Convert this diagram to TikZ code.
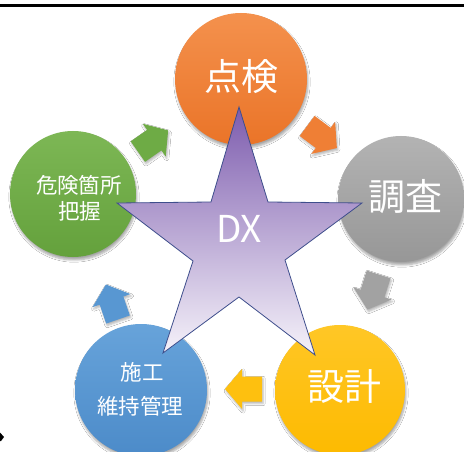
\documentclass[tikz,border=0pt]{standalone}
\usepackage{fontspec}
\setmainfont{Noto Sans CJK JP}
\usetikzlibrary{shadows.blur}
\definecolor{cOrangeT}{HTML}{F4914D}
\definecolor{cOrangeB}{HTML}{EA7428}
\definecolor{cGrayT}{HTML}{B3B3B3}
\definecolor{cGrayB}{HTML}{979797}
\definecolor{cYellowT}{HTML}{FFC726}
\definecolor{cYellowB}{HTML}{FDBA00}
\definecolor{cBlueT}{HTML}{67A3DA}
\definecolor{cBlueB}{HTML}{4C8BC9}
\definecolor{cGreenT}{HTML}{7DB755}
\definecolor{cGreenB}{HTML}{64A13C}
\definecolor{cOrange}{HTML}{EF7F35}
\definecolor{cGray}{HTML}{A2A2A2}
\definecolor{cYellow}{HTML}{FEC00F}
\definecolor{cBlue}{HTML}{5897D2}
\definecolor{cGreen}{HTML}{6EAB45}
\definecolor{starTop}{HTML}{7D5CAE}
\definecolor{starBot}{HTML}{F6F3FA}
\definecolor{starLine}{HTML}{3E4E8C}
\tikzset{
  disc/.style={circle, inner sep=0pt, minimum size=#1,
    blur shadow={shadow xshift=1pt, shadow yshift=-3pt, shadow blur steps=6, shadow opacity=35}},
  bigtxt/.style={text=white, font=\fontsize{37}{40}\selectfont, inner sep=0pt},
  smalltxt/.style={text=white, font=\fontsize{21.5}{26}\selectfont, inner sep=0pt},
  blockarrow/.style={fill=#1,
    blur shadow={shadow xshift=1pt, shadow yshift=-2pt, shadow blur steps=4, shadow opacity=30}}
}
\newcommand{\blockarr}[4]{%
  \fill[blockarrow=#4, shift={(#1,#2)}, rotate=#3]
    (-18.5,-12.5) -- (1.5,-12.5) -- (1.5,-20) -- (18.5,0) -- (1.5,20) -- (1.5,12.5) -- (-18.5,12.5) -- cycle;}
\begin{document}
\begin{tikzpicture}[x=1pt, y=-1pt]
\useasboundingbox (0,0) rectangle (464,452);
\fill[white] (0,0) rectangle (464,452);
\draw[line width=3pt] (0,5.5) -- (464,5.5);
\fill[black] (0,432.5) -- (4,437) -- (1,441) -- (0,441) -- cycle;

% circles
\node[disc=132, top color=cOrangeT, bottom color=cOrangeB] (ten) at (241,79) {};
\node[disc=126, top color=cGrayT, bottom color=cGrayB] (cho) at (401,199) {};
\node[disc=130, top color=cYellowT, bottom color=cYellowB] (sek) at (340,390) {};
\node[disc=132, top color=cBlueT, bottom color=cBlueB] (sek2) at (141,390) {};
\node[disc=126, top color=cGreenT, bottom color=cGreenB] (kik) at (73,194) {};

% arrows
\blockarr{153}{141}{35}{cGreen}
\blockarr{322}{137}{-36.6}{cOrange}
\blockarr{373}{292}{-107.7}{cGray}
\blockarr{243.5}{389}{180}{cYellow}
\blockarr{112}{302}{109}{cBlue}

% star
\shade[top color=starTop, bottom color=starBot, draw=starLine, line width=0.8pt, line join=miter]
  (239,107) -- (268,202) -- (362,203) -- (285,260) -- (315,355) -- (239,297)
  -- (163,353) -- (193,261) -- (117,203) -- (211,202) -- cycle;

% texts
\node[bigtxt] (tTen) at (241,77) {点検};
\node[bigtxt] (tCho) at (405,197) {調査};
\node[bigtxt] (tSek) at (344,386) {設計};
\node[smalltxt] (tKik1) at (79,185) {危険箇所};
\node[smalltxt] (tKik2) at (80,211) {把握};
\node[smalltxt] (tSeko1) at (142,372) {施工};
\node[smalltxt] (tSeko2) at (140,406) {維持管理};
\node[text=white, font=\fontsize{37}{40}\selectfont, inner sep=0pt] (dx) at (239,229) {DX};
\end{tikzpicture}
\end{document}
